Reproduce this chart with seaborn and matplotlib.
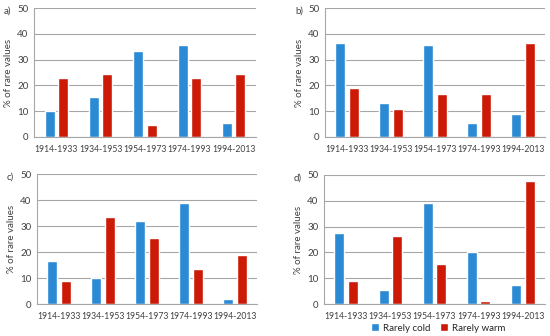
import numpy as np
import pandas as pd
import matplotlib
matplotlib.use("Agg")
import matplotlib.pyplot as plt
import seaborn as sns
from matplotlib.patches import Patch

periods = ["1914-1933", "1934-1953", "1954-1973", "1974-1993", "1994-2013"]
series = ["Rarely cold", "Rarely warm"]
panel_labels = ["a)", "b)", "c)", "d)"]

cold_a = [10, 15.5, 33.5, 35.5, 5.5]
warm_a = [23, 24.5, 4.5, 23, 24.5]
cold_b = [36.5, 13, 35.5, 5.5, 9]
warm_b = [19, 11, 16.5, 16.5, 36.5]
cold_c = [16.5, 10, 32, 39, 2]
warm_c = [9, 33.5, 25.5, 13.5, 19]
cold_d = [27.5, 5.5, 39, 20, 7.5]
warm_d = [9, 26.5, 15.5, 1, 47.5]

yticks = [0, 10, 20, 30, 40, 50]
ylabel = "% of rare values"

colors = {"Rarely cold": "#2b8ad4", "Rarely warm": "#cc1a06"}

sns.set_theme(style="white")
plt.rcParams["font.family"] = ["Lato", "DejaVu Sans"]

fig = plt.figure(figsize=(5.5, 3.36), dpi=100)
W, H = 550, 336
# axes rects in pixels: left, top, right, bottom
rects = [(34, 8, 256, 137), (325, 8, 545, 137), (37, 174, 257, 304), (324, 175, 545, 304)]
data = [(cold_a, warm_a), (cold_b, warm_b), (cold_c, warm_c), (cold_d, warm_d)]

for (l, t, r, b), (cold, warm), lab in zip(rects, data, panel_labels):
    ax = fig.add_axes([l / W, 1 - b / H, (r - l) / W, (b - t) / H])
    df = pd.DataFrame({
        "period": periods * 2,
        "series": [series[0]] * 5 + [series[1]] * 5,
        "value": list(cold) + list(warm),
    })
    sns.barplot(data=df, x="period", y="value", hue="series", order=periods,
                hue_order=series, palette=colors, width=0.6, gap=0.25,
                ax=ax, legend=False, saturation=1)
    ax.set_ylim(0, 50)
    ax.set_yticks(yticks)
    ax.yaxis.grid(True, color="#a6a6a6", linewidth=0.8)
    ax.set_axisbelow(True)
    for s in ["top", "right"]:
        ax.spines[s].set_visible(False)
    for s in ["left", "bottom"]:
        ax.spines[s].set_color("#a6a6a6")
        ax.spines[s].set_linewidth(0.8)
    ax.tick_params(axis="y", length=0, labelsize=7, colors="#404040", pad=4)
    ax.tick_params(axis="x", length=0, labelsize=6.2, colors="#404040", pad=6)
    ax.set_xlabel("")
    ax.set_ylabel(ylabel, fontsize=7, color="#404040", labelpad=3)
    fig.text((l - 30) / W, 1 - (t + 3) / H, lab, fontsize=7, color="#404040",
             ha="left", va="center")

handles = [Patch(facecolor=colors[s], label=s) for s in series]
fig.legend(handles=handles, loc="center", bbox_to_anchor=(438 / W, 1 - 328 / H),
           ncol=2, frameon=False, fontsize=7, handlelength=0.8, handleheight=0.8,
           columnspacing=1.0, handletextpad=0.4, borderaxespad=0)

fig.savefig("out.png", dpi=100)
